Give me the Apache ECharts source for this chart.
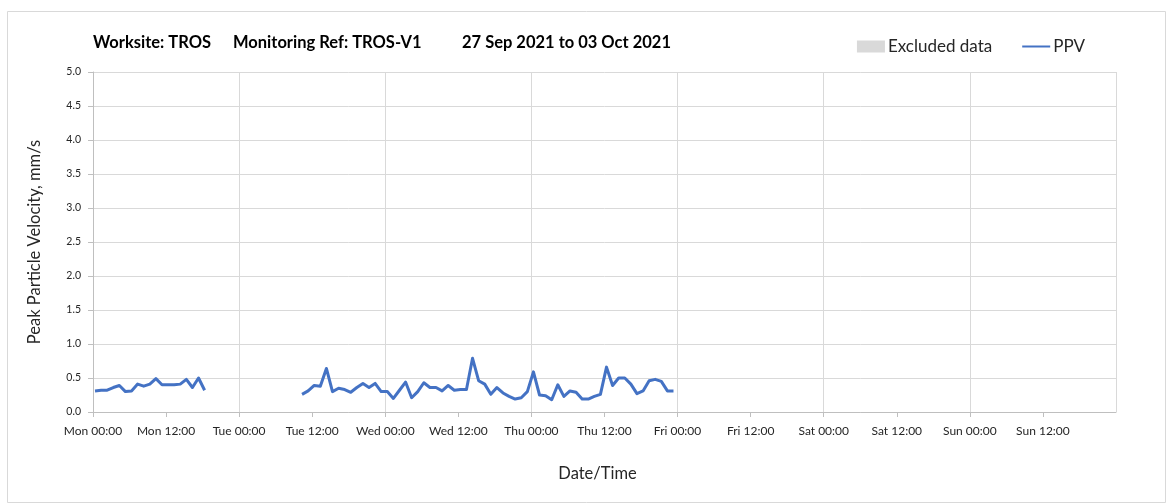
<!DOCTYPE html>
<html>
<head>
<meta charset="utf-8">
<script src="https://cdn.jsdelivr.net/npm/echarts@6/dist/echarts.min.js"></script>
<style>
html,body{margin:0;padding:0;background:#fff;}
#chart{width:1168px;height:504px;}
</style>
</head>
<body>
<div id="chart"></div>
<script>
// ---- data ----
var titleParts = ['Worksite: TROS', 'Monitoring Ref: TROS-V1', '27 Sep 2021 to 03 Oct 2021'];
var dayNames = ['Mon', 'Tue', 'Wed', 'Thu', 'Fri', 'Sat', 'Sun'];
var yTicks = [0, 0.5, 1.0, 1.5, 2.0, 2.5, 3.0, 3.5, 4.0, 4.5, 5.0];
// hours since Mon 27 Sep 2021 00:00, hourly samples
var seg1StartHour = 0.33;
var seg1Values = [0.31,0.32,0.32,0.36,0.39,0.30,0.31,0.41,0.38,0.41,0.49,0.40,0.40,0.40,0.41,0.48,0.36,0.50,0.32];
var seg2StartHour = 34.33;
var seg2Values = [0.26,0.31,0.39,0.38,0.64,0.30,0.35,0.33,0.29,0.36,0.42,0.36,0.42,0.30,0.30,0.20,0.32,0.44,0.21,0.30,0.43,0.36,0.36,0.31,0.39,0.32,0.33,
                  0.33,0.79,0.46,0.41,0.26,0.36,0.28,0.23,0.19,0.21,0.30,0.59,0.25,0.24,0.18,0.40,0.23,0.31,0.29,0.19,0.19,0.23,0.26,0.66,0.39,0.50,0.50,0.41,0.27,0.31,0.46,0.48,0.45,0.31,0.31];
var sampleStepHours = 1;

// ---- build series data ----
var ppvData = [];
seg1Values.forEach(function (v, i) { ppvData.push([seg1StartHour + i * sampleStepHours, v]); });
ppvData.push([(seg1StartHour + seg1Values.length * sampleStepHours + seg2StartHour) / 2, '-']);
seg2Values.forEach(function (v, i) { ppvData.push([seg2StartHour + i * sampleStepHours, v]); });

var FONT = 'Lato';
var titleStyle = {fontFamily: FONT, fontSize: 16.5, fontWeight: 'bold', color: '#000'};
var chart = echarts.init(document.getElementById('chart'), null, {renderer: 'canvas'});
var option = {
  backgroundColor: '#ffffff',
  animation: false,
  textStyle: {fontFamily: FONT},
  graphic: [{
    type: 'rect', left: 5, top: 9, silent: true,
    shape: {width: 1158, height: 491},
    style: {fill: 'none', stroke: '#d9d9d9', lineWidth: 1}
  }],
  title: [
    {text: titleParts[0], left: 88, top: 29, textStyle: titleStyle},
    {text: titleParts[1], left: 228, top: 29, textStyle: titleStyle},
    {text: titleParts[2], left: 457, top: 29, textStyle: titleStyle}
  ],
  legend: {
    right: 78, top: 33,
    itemGap: 30,
    itemWidth: 28, itemHeight: 12,
    textStyle: {fontFamily: FONT, fontSize: 17, color: '#262626', padding: [0, 0, 0, -2]},
    data: [
      {name: 'Excluded data', icon: 'rect', itemStyle: {color: '#d9d9d9'}},
      {name: 'PPV', icon: 'path://M0,5 L28,5 L28,7 L0,7 Z', itemStyle: {color: '#4472c4'}}
    ]
  },
  grid: {left: 93, right: 52, top: 72, bottom: 92, containLabel: false},
  xAxis: [{
    type: 'value', min: 0, max: 168, interval: 12,
    name: 'Date/Time', nameLocation: 'middle', nameGap: 53,
    nameTextStyle: {fontFamily: FONT, fontSize: 16.5, color: '#262626', padding: [0, 14, 0, 0]},
    axisLine: {show: true, lineStyle: {color: '#bfbfbf', width: 1}},
    axisTick: {show: true, length: 5, lineStyle: {color: '#bfbfbf'}},
    splitLine: {show: false},
    axisLabel: {
      fontFamily: FONT, fontSize: 12, color: '#262626', margin: 13,
      showMaxLabel: false,
      formatter: function (v) {
        if (v >= 168) return '';
        var d = Math.floor(v / 24);
        return dayNames[d] + (v % 24 === 0 ? ' 00:00' : ' 12:00');
      }
    }
  }, {
    type: 'value', min: 0, max: 168, interval: 24, position: 'bottom',
    axisLine: {show: false}, axisTick: {show: false}, axisLabel: {show: false},
    splitLine: {show: true, lineStyle: {color: '#d9d9d9', width: 1}}
  }],
  yAxis: {
    type: 'value', min: yTicks[0], max: yTicks[yTicks.length - 1], interval: 0.5,
    name: 'Peak Particle Velocity, mm/s', nameLocation: 'middle', nameGap: 50,
    nameTextStyle: {fontFamily: FONT, fontSize: 16.5, color: '#262626'},
    axisLine: {show: true, lineStyle: {color: '#bfbfbf', width: 1}},
    axisTick: {show: true, length: 5, lineStyle: {color: '#bfbfbf'}},
    splitLine: {show: true, lineStyle: {color: '#d9d9d9', width: 1}},
    axisLabel: {
      fontFamily: FONT, fontSize: 10.5, color: '#262626', margin: 12,
      formatter: function (v) { return v.toFixed(1); }
    }
  },
  series: [{
    name: 'Excluded data', type: 'bar', xAxisIndex: 0, data: [],
    itemStyle: {color: '#d9d9d9'}
  }, {
    name: 'PPV', type: 'line', xAxisIndex: 0, data: ppvData,
    showSymbol: false, symbol: 'none', connectNulls: false,
    lineStyle: {color: '#4472c4', width: 3, join: 'round'},
    itemStyle: {color: '#4472c4'}
  }]
};
chart.setOption(option);
</script>
</body>
</html>
